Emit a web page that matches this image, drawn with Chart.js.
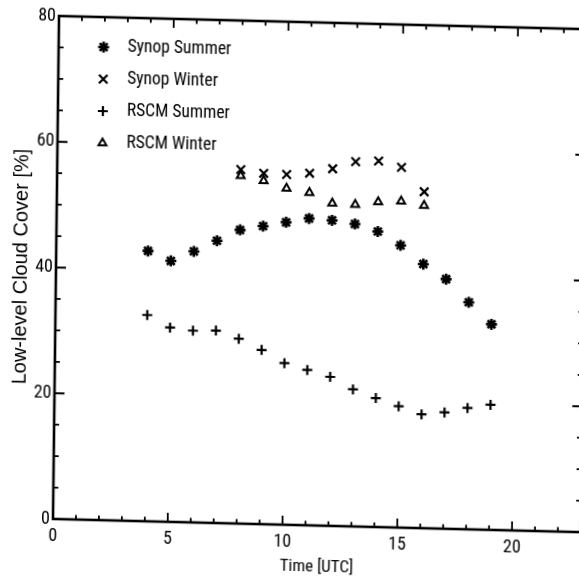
<!DOCTYPE html>
<html><head><meta charset="utf-8">
<script src="https://cdn.jsdelivr.net/npm/chart.js@4.4.0/dist/chart.umd.min.js"></script>
<style>
html,body{margin:0;padding:0;background:#fff;overflow:hidden;width:579px;height:580px;}
#c{position:absolute;left:0;top:0;transform-origin:53px 519px;transform:matrix(1,0.025,-0.012,1,0,0);}
</style></head><body>
<canvas id="c" width="600" height="580"></canvas>
<script>
// ---- data ----
const hoursSummer = [4,5,6,7,8,9,10,11,12,13,14,15,16,17,18,19];
const hoursWinter = [8,9,10,11,12,13,14,15,16];
const synopSummer = [43.0,41.5,43.1,44.9,46.7,47.4,48.1,48.8,48.6,48.1,47.0,44.9,42.0,39.7,36.1,32.7];
const synopWinter = [56.3,55.8,55.7,56.0,56.8,58.0,58.2,57.3,53.5];
const rscmSummer  = [32.8,30.9,30.5,30.6,29.4,27.7,25.7,24.7,23.7,21.8,20.5,19.3,18.1,18.5,19.3,19.9];
const rscmWinter  = [55.3,54.6,53.5,52.9,51.3,51.2,51.7,51.9,51.3];
const seriesNames = ['Synop Summer','Synop Winter','RSCM Summer','RSCM Winter'];
const xTitle = 'Time [UTC]';
const yTitle = 'Low-level Cloud Cover [%]';
const xRange = [0, 23];
const yRange = [0, 80];

const NARROW = '"Roboto Condensed", "Liberation Sans", Arial, sans-serif';
const REG = '"Liberation Sans", Arial, sans-serif';

function pts(xs, ys){ return xs.map((x,i)=>({x:x, y:ys[i]})); }

const styles = [
  {pointStyle:'star', radius:5.5, borderWidth:2.6, backgroundColor:'#000'},
  {pointStyle:'crossRot', radius:6, borderWidth:2.2, backgroundColor:'#000'},
  {pointStyle:'cross', radius:5, borderWidth:2.2, backgroundColor:'#000'},
  {pointStyle:'triangle', radius:4.6, borderWidth:2, backgroundColor:'#fff'}
];
const seriesData = [pts(hoursSummer, synopSummer), pts(hoursWinter, synopWinter), pts(hoursSummer, rscmSummer), pts(hoursWinter, rscmWinter)];

const datasets = seriesNames.map((n,i)=>({
  label:n, data:seriesData[i], showLine:false,
  pointStyle:styles[i].pointStyle, pointRadius:styles[i].radius, pointHoverRadius:styles[i].radius,
  pointBorderWidth:styles[i].borderWidth, pointBorderColor:'#000', pointBackgroundColor:styles[i].backgroundColor,
  borderColor:'#000', backgroundColor:styles[i].backgroundColor
}));

const framePlugin = {
  id:'frame',
  afterDatasetsDraw(chart){
    const ctx = chart.ctx, a = chart.chartArea, xs = chart.scales.x, ys = chart.scales.y;
    ctx.save();
    ctx.strokeStyle = '#000';
    ctx.lineWidth = 1.8;
    ctx.beginPath();
    xs.ticks.forEach(t=>{
      const p = xs.getPixelForValue(t.value);
      const len = (t.value % 5 === 0) ? 9 : 4.5;
      ctx.moveTo(p, a.bottom); ctx.lineTo(p, a.bottom - len);
      ctx.moveTo(p, a.top); ctx.lineTo(p, a.top + len);
    });
    ys.ticks.forEach(t=>{
      const p = ys.getPixelForValue(t.value);
      const len = (t.value % 20 === 0) ? 10 : 5;
      ctx.moveTo(a.left, p); ctx.lineTo(a.left + len, p);
      ctx.moveTo(a.right, p); ctx.lineTo(a.right - len, p);
    });
    ctx.stroke();
    ctx.lineWidth = 2.6;
    ctx.strokeRect(a.left, a.top, a.right - a.left, a.bottom - a.top);
    ctx.restore();
  },
  afterDraw(chart){
    const ctx = chart.ctx;
    const x0 = 98, xt = 122, y0 = 46, dy = 32;
    ctx.save();
    chart.data.datasets.forEach((ds,i)=>{
      const y = y0 + i*dy;
      ctx.strokeStyle = '#000';
      ctx.fillStyle = ds.pointBackgroundColor;
      ctx.lineWidth = ds.pointBorderWidth;
      Chart.helpers.drawPoint(ctx, {pointStyle:ds.pointStyle, radius:ds.pointRadius, rotation:0, borderWidth:ds.pointBorderWidth}, x0, y);
      ctx.fillStyle = '#000';
      ctx.font = '17.5px ' + NARROW;
      ctx.textBaseline = 'middle';
      ctx.textAlign = 'left';
      ctx.fillText(ds.label, xt, y);
    });
    ctx.restore();
  }
};

function build(){
  new Chart(document.getElementById('c'), {
    type:'scatter',
    data:{datasets},
    plugins:[framePlugin],
    options:{
      responsive:false, animation:false, devicePixelRatio:1,
      layout:{padding:{top:16, right:19, left:0, bottom:0}},
      plugins:{legend:{display:false}, tooltip:{enabled:false}},
      scales:{
        x:{
          type:'linear', min:xRange[0], max:xRange[1],
          grid:{display:false, drawTicks:false}, border:{display:false},
          ticks:{stepSize:1, autoSkip:false, includeBounds:false, maxRotation:0, padding:7, color:'#000',
            font:{family:NARROW, size:18},
            callback:(v)=> (v % 5 === 0 ? String(v) : '')},
          title:{display:true, text:xTitle, color:'#000', font:{family:NARROW, size:17}, padding:{top:0,bottom:9}},
          afterFit:(s)=>{ s.height = 61; }
        },
        y:{
          type:'linear', min:yRange[0], max:yRange[1],
          grid:{display:false, drawTicks:false}, border:{display:false},
          ticks:{stepSize:5, autoSkip:false, padding:3, color:'#000',
            font:{family:NARROW, size:18},
            callback:(v)=> (v % 20 === 0 ? String(v) : '')},
          title:{display:true, text:yTitle, color:'#000', font:{family:REG, size:20}, padding:{top:6,bottom:0}},
          afterFit:(s)=>{ s.width = 53; }
        }
      }
    }
  });
}
const fontLoads = [document.fonts.load('18px "Roboto Condensed"'), document.fonts.load('20px "Liberation Sans"')];
Promise.all(fontLoads).then(build, build);
</script>
</body></html>
